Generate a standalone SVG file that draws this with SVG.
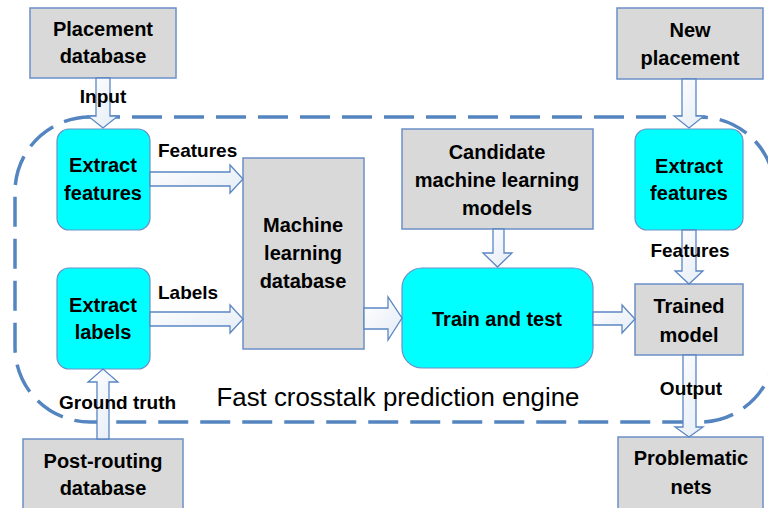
<svg xmlns="http://www.w3.org/2000/svg" width="768" height="508" viewBox="0 0 768 508">
<style>
.gray{fill:#d9d9d9;stroke:#6b90c8;stroke-width:1.5}
.cyan{fill:#00ffff;stroke:#6b90c8;stroke-width:1.2}
.arr{fill:url(#ag);stroke:#5b86c2;stroke-width:1.3;stroke-linejoin:miter}
.t{font-family:"Liberation Sans",Arial,sans-serif;font-weight:bold;font-size:20px;fill:#000;text-anchor:middle}
.l{font-family:"Liberation Sans",Arial,sans-serif;font-weight:bold;font-size:19px;fill:#000}
.engine{fill:none;stroke:#5585c0;stroke-width:3.5;stroke-dasharray:30 12}
</style>
<defs>
<linearGradient id="ag" x1="0" y1="0" x2="1" y2="1">
<stop offset="0" stop-color="#ffffff"/>
<stop offset="1" stop-color="#e4ecf6"/>
</linearGradient>
</defs>
<rect width="768" height="508" fill="#ffffff"/>
<rect id="engine" class="engine" x="15" y="117" width="760" height="305" rx="75" ry="75"/>
<text x="398" y="406" font-family="'Liberation Sans',Arial,sans-serif" font-size="25.8" text-anchor="middle" fill="#000">Fast crosstalk prediction engine</text>

<g id="placement-db"><rect class="gray" x="30" y="8" width="146" height="70"/><text class="t" x="103" y="36">Placement</text><text class="t" x="103" y="63">database</text></g>
<g id="extract-features-left"><rect class="cyan" x="57" y="129" width="93" height="101" rx="12"/><text class="t" x="103" y="172">Extract</text><text class="t" x="103" y="200">features</text></g>
<g id="extract-labels"><rect class="cyan" x="57" y="268" width="93" height="101" rx="12"/><text class="t" x="103" y="312">Extract</text><text class="t" x="103" y="339">labels</text></g>
<g id="post-routing-db"><rect class="gray" x="23" y="439" width="160" height="75"/><text class="t" x="103" y="468">Post-routing</text><text class="t" x="103" y="495">database</text></g>
<g id="ml-db"><rect class="gray" x="243" y="158" width="121" height="191"/><text class="t" x="303" y="232">Machine</text><text class="t" x="303" y="260">learning</text><text class="t" x="303" y="288">database</text></g>
<g id="candidate"><rect class="gray" x="402" y="129" width="191" height="100"/><text class="t" x="497" y="159">Candidate</text><text class="t" x="497" y="187">machine learning</text><text class="t" x="497" y="215">models</text></g>
<g id="train-test"><rect class="cyan" x="402" y="268" width="191" height="100" rx="20"/><text class="t" x="497" y="326">Train and test</text></g>
<g id="new-placement"><rect class="gray" x="617" y="8" width="146" height="71"/><text class="t" x="690" y="37">New</text><text class="t" x="690" y="65">placement</text></g>
<g id="extract-features-right"><rect class="cyan" x="635" y="129" width="108" height="101" rx="12"/><text class="t" x="689" y="173">Extract</text><text class="t" x="689" y="200">features</text></g>
<g id="trained-model"><rect class="gray" x="635" y="284" width="108" height="71"/><text class="t" x="689" y="313">Trained</text><text class="t" x="689" y="342">model</text></g>
<g id="problematic-nets"><rect class="gray" x="618" y="437" width="145" height="77"/><text class="t" x="691" y="465">Problematic</text><text class="t" x="691" y="494">nets</text></g>

<g id="connectors">
<polygon class="arr" points="96,78 110,78 110,116 118,116 103,128 88,116 96,116"/>
<polygon class="arr" points="150,172 230,172 230,165 243,179 230,193 230,186 150,186"/>
<polygon class="arr" points="150,312 230,312 230,305 243,319 230,333 230,326 150,326"/>
<polygon class="arr" points="97,439 109,439 109,382 118,382 103,369 88,382 97,382"/>
<polygon class="arr" points="364,308 388,308 388,297 402,318 388,340 388,329 364,329"/>
<polygon class="arr" points="493,229 504,229 504,253 512,253 497.5,267 483,253 493,253"/>
<polygon class="arr" points="593,312 622,312 622,305 635,319 622,333 622,325 593,325"/>
<polygon class="arr" points="682,79 696,79 696,116 704,116 689,128 674,116 682,116"/>
<polygon class="arr" points="682,230 696,230 696,271 703,271 689,284 675,271 682,271"/>
<polygon class="arr" points="683,355 696,355 696,427 703,427 689,437 675,427 683,427"/>
<text class="l" x="103" y="103" text-anchor="middle">Input</text>
<text class="l" x="158" y="157" font-size="20">Features</text>
<text class="l" x="158" y="299">Labels</text>
<text class="l" x="59" y="409">Ground truth</text>
<text class="l" x="690" y="257" text-anchor="middle" font-size="20">Features</text>
<text class="l" x="691" y="395" text-anchor="middle">Output</text>
</g>
</svg>
